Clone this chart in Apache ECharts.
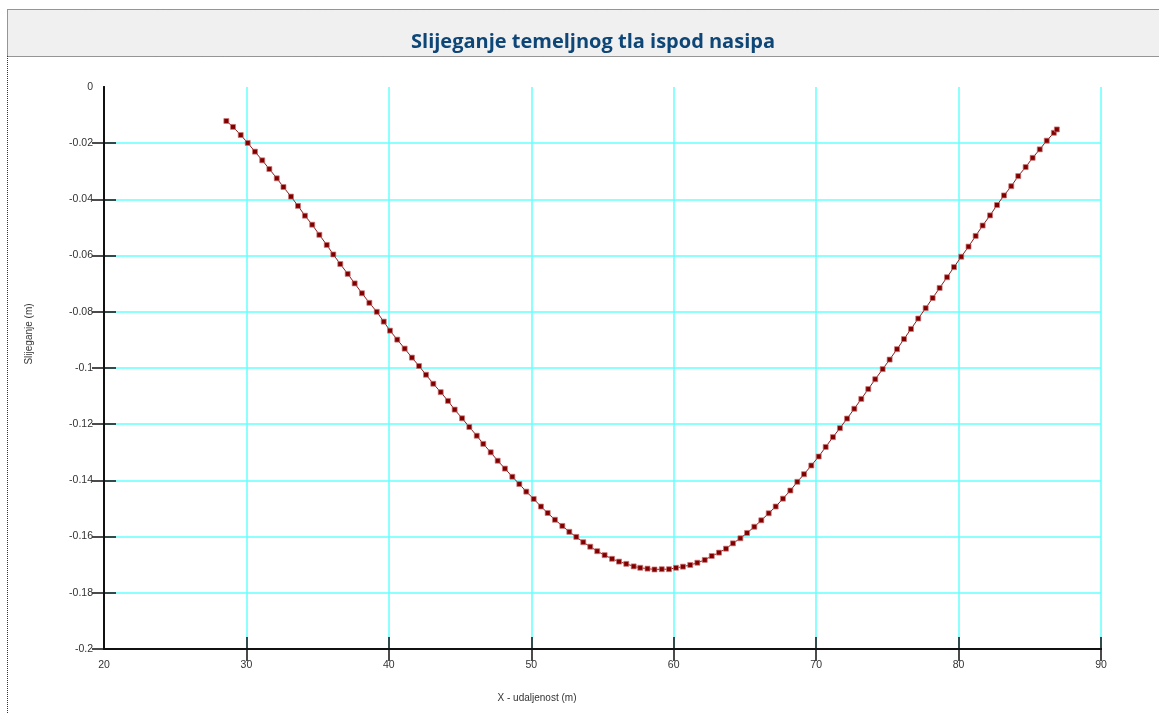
<!DOCTYPE html>
<html>
<head>
<meta charset="utf-8">
<script src="https://cdn.jsdelivr.net/npm/echarts@6/dist/echarts.min.js"></script>
<style>
html,body{margin:0;padding:0;background:#fff;}
#chart{width:1159px;height:713px;}
</style>
</head>
<body>
<div id="chart"></div>
<script>
const chartTitle = 'Slijeganje temeljnog tla ispod nasipa';
const xAxisName = 'X - udaljenost (m)';
const yAxisName = 'Slijeganje (m)';
const xTicks = [20, 30, 40, 50, 60, 70, 80, 90];
const yTicks = [0, -0.02, -0.04, -0.06, -0.08, -0.1, -0.12, -0.14, -0.16, -0.18, -0.2];

const xValues = [28.59, 29.06, 29.60, 30.09, 30.60, 31.11, 31.61, 32.13, 32.60, 33.13,
  33.62, 34.11, 34.62, 35.12, 35.64, 36.10, 36.59, 37.11, 37.60, 38.11,
  38.63, 39.15, 39.64, 40.08, 40.59, 41.11, 41.62, 42.12, 42.61, 43.12,
  43.64, 44.15, 44.62, 45.14, 45.65, 46.17, 46.63, 47.15, 47.64, 48.15,
  48.67, 49.16, 49.65, 50.17, 50.68, 51.15, 51.66, 52.18, 52.67, 53.16,
  53.65, 54.14, 54.63, 55.15, 55.67, 56.16, 56.67, 57.19, 57.65, 58.16,
  58.65, 59.16, 59.67, 60.16, 60.65, 61.16, 61.66, 62.18, 62.67, 63.18,
  63.67, 64.16, 64.68, 65.15, 65.66, 66.15, 66.67, 67.16, 67.67, 68.19,
  68.68, 69.15, 69.66, 70.18, 70.67, 71.18, 71.67, 72.17, 72.68, 73.17,
  73.66, 74.15, 74.67, 75.16, 75.68, 76.17, 76.66, 77.17, 77.69, 78.18,
  78.67, 79.19, 79.68, 80.19, 80.70, 81.20, 81.69, 82.21, 82.70, 83.19,
  83.70, 84.19, 84.71, 85.20, 85.70, 86.19, 86.69, 86.90];

const settlement = [-0.0121, -0.0142, -0.0171, -0.0199, -0.0230, -0.0261, -0.0292, -0.0325, -0.0356, -0.0390,
  -0.0423, -0.0458, -0.0490, -0.0526, -0.0562, -0.0596, -0.0630, -0.0665, -0.0699, -0.0734,
  -0.0768, -0.0800, -0.0835, -0.0867, -0.0899, -0.0931, -0.0963, -0.0993, -0.1024, -0.1056,
  -0.1086, -0.1117, -0.1148, -0.1179, -0.1210, -0.1241, -0.1270, -0.1300, -0.1330, -0.1358,
  -0.1387, -0.1413, -0.1440, -0.1466, -0.1493, -0.1516, -0.1540, -0.1562, -0.1583, -0.1601,
  -0.1620, -0.1636, -0.1652, -0.1666, -0.1679, -0.1689, -0.1697, -0.1706, -0.1711, -0.1714,
  -0.1717, -0.1716, -0.1716, -0.1711, -0.1707, -0.1701, -0.1693, -0.1683, -0.1669, -0.1657,
  -0.1643, -0.1624, -0.1606, -0.1587, -0.1565, -0.1542, -0.1517, -0.1493, -0.1465, -0.1436,
  -0.1405, -0.1378, -0.1347, -0.1315, -0.1281, -0.1246, -0.1214, -0.1180, -0.1145, -0.1110,
  -0.1075, -0.1040, -0.1004, -0.0970, -0.0933, -0.0897, -0.0861, -0.0824, -0.0787, -0.0751,
  -0.0715, -0.0677, -0.0641, -0.0604, -0.0568, -0.0530, -0.0493, -0.0457, -0.0420, -0.0386,
  -0.0353, -0.0317, -0.0285, -0.0252, -0.0222, -0.0191, -0.0163, -0.0151];

const points = xValues.map((x, i) => [x, settlement[i]]);

const chart = echarts.init(document.getElementById('chart'), null, {renderer: 'canvas'});

const labelFont = {fontFamily: 'Liberation Sans', fontSize: 10.5, color: '#333'};
const xMin = xTicks[0], xMax = xTicks[xTicks.length - 1];
const yMin = yTicks[yTicks.length - 1], yMax = yTicks[0];

function xAxisDef(inside, showLabel, showSplit) {
  return {
    type: 'value', position: 'bottom', min: xMin, max: xMax, interval: 10,
    axisLine: {show: true, onZero: false, lineStyle: {color: '#111', width: 2}},
    axisTick: {show: true, inside: inside, length: 12, lineStyle: {color: '#111', width: 1.5},
      customValues: xTicks.slice(1)},
    axisLabel: Object.assign({show: showLabel, margin: 11}, labelFont),
    splitLine: {show: showSplit, lineStyle: {color: '#66ffff', width: 1.5}}
  };
}
function yAxisDef(inside, showLabel, showSplit) {
  return {
    type: 'value', position: 'left', min: yMin, max: yMax, interval: 0.02,
    axisLine: {show: true, onZero: false, lineStyle: {color: '#111', width: 2}},
    axisTick: {show: true, inside: inside, length: 12, lineStyle: {color: '#111', width: 1.5},
      customValues: yTicks.slice(1)},
    axisLabel: Object.assign({show: showLabel, margin: 11}, labelFont),
    splitLine: {show: showSplit, lineStyle: {color: '#66ffff', width: 1.5}}
  };
}

chart.setOption({
  animation: false,
  backgroundColor: '#fff',
  grid: {left: 104, right: 58, top: 87, bottom: 64, containLabel: false},
  title: {
    text: chartTitle, left: 588, top: 27, textAlign: 'center',
    textStyle: {fontFamily: 'Open Sans', fontWeight: 'bold', fontSize: 20, color: '#0d4677'}
  },
  graphic: [
    {type: 'rect', z: -10, silent: true,
      shape: {x: 7.5, y: 9.5, width: 1170, height: 47},
      style: {fill: '#f0f0f0', stroke: '#333', lineWidth: 1, lineDash: [1, 1]}},
    {type: 'line', z: -10, silent: true,
      shape: {x1: 7.5, y1: 56, x2: 7.5, y2: 713},
      style: {stroke: '#333', lineWidth: 1, lineDash: [1, 1]}},
    {type: 'text', silent: true, x: 537, y: 698,
      style: {text: xAxisName, fontFamily: 'Liberation Sans', fontSize: 10, fill: '#333',
        textAlign: 'center', textVerticalAlign: 'middle'}},
    {type: 'text', silent: true, x: 29, y: 334, rotation: Math.PI / 2,
      style: {text: yAxisName, fontFamily: 'Liberation Sans', fontSize: 10, fill: '#333',
        textAlign: 'center', textVerticalAlign: 'middle'}}
  ],
  xAxis: [xAxisDef(true, true, true), xAxisDef(false, false, false)],
  yAxis: [yAxisDef(true, true, true), yAxisDef(false, false, false)],
  series: [{
    type: 'line', xAxisIndex: 0, yAxisIndex: 0,
    data: points,
    symbol: 'rect', symbolSize: 5, showSymbol: true,
    lineStyle: {color: '#8b1a1a', width: 1},
    itemStyle: {color: '#800000', borderColor: 'rgba(205,120,120,0.7)', borderWidth: 1},
    z: 5
  }]
});
</script>
</body>
</html>
